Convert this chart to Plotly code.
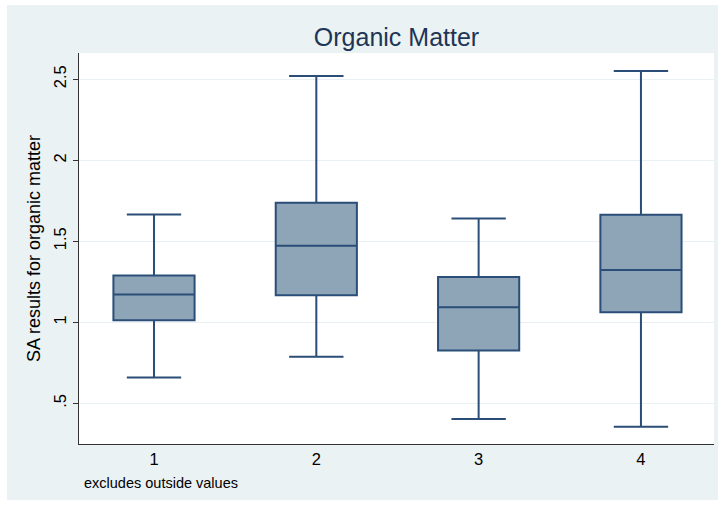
import plotly.graph_objects as go

# Box plot summary per group (whiskers exclude outside values)
groups = [1, 2, 3, 4]
lower_whisker = [0.659, 0.787, 0.403, 0.356]
q1_vals = [1.012, 1.167, 0.826, 1.062]
median_vals = [1.171, 1.473, 1.093, 1.323]
q3_vals = [1.289, 1.738, 1.279, 1.664]
upper_whisker = [1.666, 2.520, 1.641, 2.551]

y_ticks = [0.5, 1, 1.5, 2, 2.5]
y_tick_text = [".5", "1", "1.5", "2", "2.5"]

navy = "#2A4E77"
box_fill = "#8EA5B8"
outer_bg = "#EAF2F3"
font_family = "Liberation Sans, Arial, Helvetica, sans-serif"

fig = go.Figure()
fig.add_trace(go.Box(
    x=groups,
    q1=q1_vals,
    median=median_vals,
    q3=q3_vals,
    lowerfence=lower_whisker,
    upperfence=upper_whisker,
    width=0.5,
    whiskerwidth=0.67,
    fillcolor=box_fill,
    line=dict(color=navy, width=2),
    boxpoints=False,
    showlegend=False,
    hoverinfo="skip",
))

fig.update_layout(
    width=725,
    height=507,
    margin=dict(l=79, r=11, t=53, b=63),
    paper_bgcolor="white",
    plot_bgcolor="white",
    font=dict(family=font_family, color="black"),
    title=dict(
        text="Organic Matter",
        x=(79 + 714) / 2 / 725,
        xanchor="center",
        y=1 - 37 / 507,
        yanchor="middle",
        font=dict(size=25, color="#1E3556", family=font_family),
    ),
    shapes=[
        # outer graph region
        dict(type="rect", xref="paper", yref="paper",
             x0=-72 / 635, x1=1 + 4 / 635, y0=-56 / 391, y1=1 + 48 / 391,
             fillcolor=outer_bg, line=dict(width=0), layer="below"),
        # plot region
        dict(type="rect", xref="paper", yref="paper",
             x0=0, x1=1, y0=0, y1=1,
             fillcolor="white", line=dict(width=0), layer="below"),
    ],
    annotations=[
        dict(text="excludes outside values", xref="paper", yref="paper",
             x=3 / 635, y=-39 / 391, xanchor="left", yanchor="middle",
             showarrow=False, font=dict(size=14.5, color="black", family=font_family)),
    ],
)

fig.update_xaxes(
    range=[0.538, 4.45],
    tickvals=groups,
    ticktext=[str(g) for g in groups],
    showgrid=False,
    zeroline=False,
    showline=True,
    linecolor="#333333",
    linewidth=1,
    ticks="",
    tickfont=dict(size=16.5, color="black"),
)

fig.update_yaxes(
    range=[0.249, 2.662],
    tickvals=y_ticks,
    ticktext=y_tick_text,
    tickangle=-90,
    showgrid=True,
    gridcolor="#E8F0F3",
    gridwidth=1,
    zeroline=False,
    showline=True,
    linecolor="#333333",
    linewidth=1,
    ticks="outside",
    ticklen=5,
    tickcolor="#333333",
    tickfont=dict(size=16.5, color="black"),
    title=dict(text="SA results for organic matter", font=dict(size=18, color="black"),
               standoff=6),
)

fig.write_html("out.html")
